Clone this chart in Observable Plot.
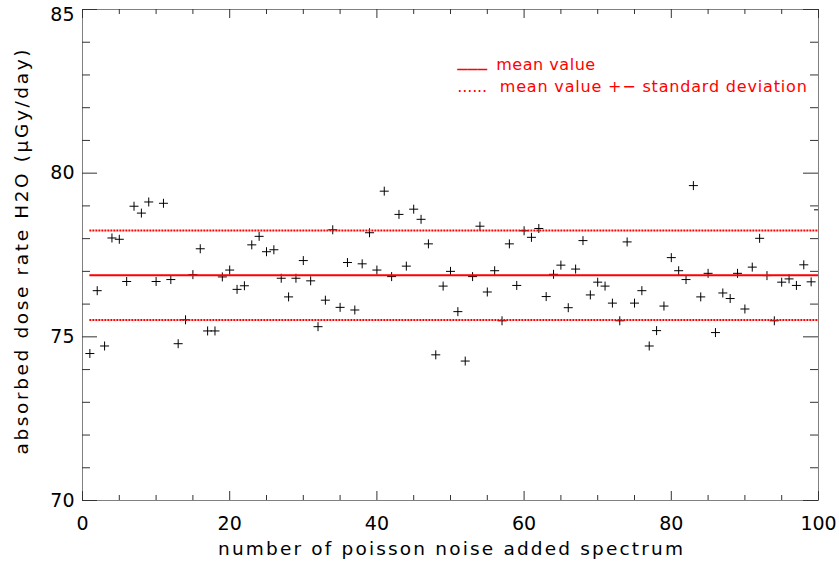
<!DOCTYPE html>
<html>
<head>
<meta charset="utf-8">
<script src="https://cdn.jsdelivr.net/npm/d3@7"></script>
<script src="https://cdn.jsdelivr.net/npm/@observablehq/plot@0.6"></script>
<style>
  html, body { margin: 0; padding: 0; background: #fff; }
  #chart svg { display: block; }
</style>
</head>
<body>
<div id="chart"></div>
<script>
// ---- data ----
const spectrumIndex = [
  1,2,3,4,5,6,7,8,9,10,11,12,13,14,15,16,17,18,19,20,
  21,22,23,24,25,26,27,28,29,30,31,32,33,34,35,36,37,38,39,40,
  41,42,43,44,45,46,47,48,49,50,51,52,53,54,55,56,57,58,59,60,
  61,62,63,64,65,66,67,68,69,70,71,72,73,74,75,76,77,78,79,80,
  81,82,83,84,85,86,87,88,89,90,91,92,93,94,95,96,97,98,99,100
];
const doseRate = [
  74.49,76.41,74.72,78.02,77.98,76.69,78.99,78.78,79.12,76.69,
  79.08,76.75,74.79,75.52,76.90,77.69,75.18,75.18,76.83,77.04,
  76.45,76.56,77.81,78.07,77.60,77.66,76.79,76.22,76.79,77.33,
  76.71,75.31,76.12,78.27,75.90,77.27,75.82,77.23,78.18,77.04,
  79.45,76.84,78.74,77.16,78.90,78.59,77.84,74.45,76.55,77.00,
  75.77,74.26,76.84,78.38,76.37,77.02,75.49,77.84,76.57,78.24,
  78.04,78.31,76.23,76.91,77.19,75.89,77.07,77.94,76.28,76.67,
  76.55,76.03,75.49,77.90,76.03,76.41,74.72,75.19,75.94,77.42,
  77.02,76.75,79.62,76.22,76.94,75.13,76.34,76.17,76.94,75.85,
  77.13,78.01,76.87,75.49,76.67,76.77,76.57,77.20,76.68,78.88
];
const meanValue = 76.88;
const stdDeviation = 1.365;

const xMajorTicks = [0, 20, 40, 60, 80, 100];
const xMinorTicks = [5, 10, 15, 25, 30, 35, 45, 50, 55, 65, 70, 75, 85, 90, 95];
const yMajorTicks = [70, 75, 80, 85];
const yMinorTicks = [71, 72, 73, 74, 76, 77, 78, 79, 81, 82, 83, 84];

const xLabel = "number of poisson noise added spectrum";
const yLabel = "absorbed dose rate H2O (\u03BCGy/day)";
const legendMeanKey = "___";
const legendMeanText = "mean value";
const legendStdKey = "......";
const legendStdText = "mean value +\u2212 standard deviation";

// ---- build ----
const points = spectrumIndex.map((x, i) => ({x, y: doseRate[i]}));
const firstIndex = d3.min(spectrumIndex);
const lastIndex = d3.max(spectrumIndex);
const yTopTick = d3.max(yMajorTicks);
const yInnerTicks = yMajorTicks.filter(t => t !== yTopTick);

const W = 839, H = 565, mL = 82, mR = 21, mT = 9, mB = 65;
const innerW = W - mL - mR;
const innerH = H - mT - mB;

const thinPlus = {
  draw(ctx, size) {
    const r = Math.sqrt(size / Math.PI);
    ctx.moveTo(-r, 0); ctx.lineTo(r, 0);
    ctx.moveTo(0, -r); ctx.lineTo(0, r);
  }
};

const tickColor = "#333";
const red = "#ff0000";

const chart = Plot.plot({
  width: W, height: H,
  marginLeft: mL, marginRight: mR, marginTop: mT, marginBottom: mB,
  style: {fontFamily: "'DejaVu Sans', sans-serif", fontSize: "19px", background: "#fff", color: "#000"},
  x: {domain: [0, 100]},
  y: {domain: [70, 85]},
  marks: [
    Plot.frame({stroke: "#808080"}),
    // bottom & top ticks (inward)
    Plot.tickX(xMajorTicks, {x: d => d, insetTop: innerH - 9, stroke: tickColor}),
    Plot.tickX(xMinorTicks, {x: d => d, insetTop: innerH - 5, stroke: tickColor}),
    Plot.tickX(xMajorTicks, {x: d => d, insetBottom: innerH - 9, stroke: tickColor}),
    Plot.tickX(xMinorTicks, {x: d => d, insetBottom: innerH - 5, stroke: tickColor}),
    // left & right ticks (inward)
    Plot.tickY(yMajorTicks, {y: d => d, insetRight: innerW - 15, stroke: tickColor}),
    Plot.tickY(yMinorTicks, {y: d => d, insetRight: innerW - 8, stroke: tickColor}),
    Plot.tickY(yMajorTicks, {y: d => d, insetLeft: innerW - 15, stroke: tickColor}),
    Plot.tickY(yMinorTicks, {y: d => d, insetLeft: innerW - 8, stroke: tickColor}),
    Plot.axisX({ticks: xMajorTicks, tickSize: 0, tickPadding: 15.5, label: null, tickFormat: d => String(d)}),
    Plot.axisY({ticks: yInnerTicks, tickSize: 0, tickPadding: 8, label: null, tickFormat: d => String(d)}),
    Plot.axisY({ticks: [yTopTick], tickSize: 0, tickPadding: 8, dy: 5, label: null, tickFormat: d => String(d)}),
    // data
    Plot.dot(points, {x: "x", y: "y", symbol: thinPlus, r: 4.5, stroke: "#000", fill: "none", strokeWidth: 1, clip: true}),
    // mean and +- sd
    Plot.ruleY([meanValue], {x1: firstIndex, x2: lastIndex, stroke: red, strokeWidth: 2}),
    Plot.ruleY([meanValue - stdDeviation, meanValue + stdDeviation],
      {x1: firstIndex, x2: lastIndex, stroke: red, strokeWidth: 2, strokeDasharray: "2,1"}),
    // axis titles
    Plot.text([xLabel], {text: d => d, frameAnchor: "bottom", textAnchor: "middle", lineAnchor: "bottom",
      dy: 54, fontSize: 18.5, fill: "#000"}),
    Plot.text([yLabel], {text: d => d, frameAnchor: "left", textAnchor: "middle", lineAnchor: "middle",
      rotate: -90, dx: -60, dy: -3, fontSize: 18.5, fill: "#000"}),
    // legend
    Plot.text([legendMeanKey], {text: d => d, frameAnchor: "top-left", textAnchor: "start", lineAnchor: "bottom",
      dx: 374.7, dy: 57, fontSize: 16, fontWeight: "bold", fill: red}),
    Plot.text([legendMeanText], {text: d => d, frameAnchor: "top-left", textAnchor: "start", lineAnchor: "bottom",
      dx: 413.7, dy: 60, fontSize: 16, fill: red}),
    Plot.text([legendStdKey], {text: d => d, frameAnchor: "top-left", textAnchor: "start", lineAnchor: "bottom",
      dx: 374.7, dy: 82.7, fontSize: 16, fill: red}),
    Plot.text([legendStdText], {text: d => d, frameAnchor: "top-left", textAnchor: "start", lineAnchor: "bottom",
      dx: 417.3, dy: 82.7, fontSize: 16, fill: red})
  ]
});

// stretch texts to the widths measured on the reference (wide Hershey-like spacing)
const textLengths = new Map([
  [xLabel, [465, "spacing"]],
  [yLabel, [405, "spacing"]],
  [legendMeanText, [99, "spacing"]],
  [legendStdText, [307, "spacing"]],
  [legendMeanKey, [30, "spacingAndGlyphs"]],
  [legendStdKey, [30, "spacing"]]
]);
d3.select(chart).selectAll("text").each(function() {
  const t = textLengths.get(this.textContent);
  if (t) { this.setAttribute("textLength", t[0]); this.setAttribute("lengthAdjust", t[1]); }
});

document.getElementById("chart").appendChild(chart);
</script>
</body>
</html>
